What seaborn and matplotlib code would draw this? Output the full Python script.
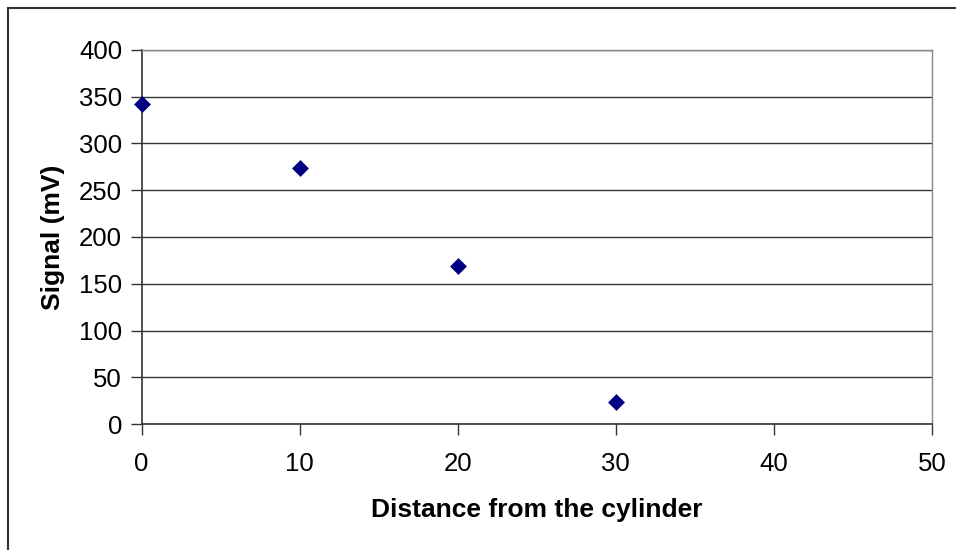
import matplotlib
matplotlib.use("Agg")
import matplotlib.pyplot as plt
import seaborn as sns
import pandas as pd
from matplotlib.patches import Rectangle

distance = [0, 10, 20, 30]
signal = [342, 274, 169, 23]
x_ticks = [0, 10, 20, 30, 40, 50]
y_ticks = [0, 50, 100, 150, 200, 250, 300, 350, 400]

sns.set_style("white")
plt.rcParams['font.family'] = ['Liberation Sans', 'DejaVu Sans']

df = pd.DataFrame({"Distance": distance, "Signal": signal})

fig = plt.figure(figsize=(9.56, 5.5), dpi=100)
ax = fig.add_axes([141.5/956, 1-424/550, (932-141.5)/956, (424-50)/550])

sns.scatterplot(data=df, x="Distance", y="Signal", ax=ax, marker="D", s=65,
                color="#000080", edgecolor="#000080", linewidth=0.5, zorder=5, clip_on=False)

ax.set_xlim(0, 50)
ax.set_ylim(0, 400)
ax.set_xticks(x_ticks)
ax.set_yticks(y_ticks)
ax.set_xticklabels([str(t) for t in x_ticks], fontsize=18.5, color='black')
ax.set_yticklabels([str(t) for t in y_ticks], fontsize=18.5, color='black')
ax.tick_params(axis='both', which='major', direction='out', length=8, width=1,
               color='#333333', bottom=True, left=True)
ax.tick_params(axis='x', pad=12)
ax.tick_params(axis='y', pad=6)
ax.yaxis.grid(True, color='#333333', linewidth=1)
ax.xaxis.grid(False)
for side in ['left', 'bottom']:
    ax.spines[side].set_color('#333333')
    ax.spines[side].set_linewidth(1.2)
for side in ['right', 'top']:
    ax.spines[side].set_color('#888888')
    ax.spines[side].set_linewidth(1)
ax.set_xlabel("Distance from the cylinder", fontsize=19, fontweight='bold', labelpad=16, color='black')
ax.set_ylabel("Signal (mV)", fontsize=19, fontweight='bold', labelpad=10, color='black')

fig.patches.append(Rectangle((8/956, -0.1), 1.0, 1 - 8/550 + 0.1, transform=fig.transFigure,
                             fill=False, edgecolor='#333333', linewidth=1.5))

fig.savefig("out.png", dpi=100)
